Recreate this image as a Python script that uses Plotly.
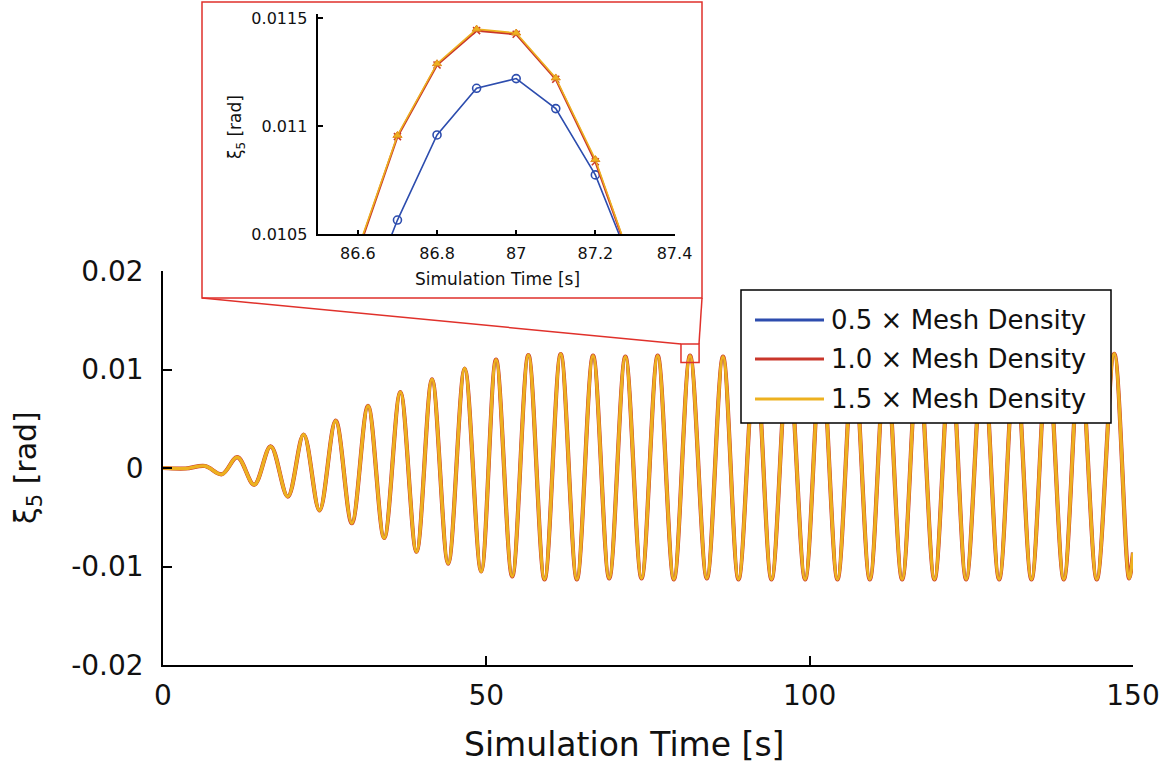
import plotly.graph_objects as go

W, H = 1170, 774

# ---------------- data ----------------
# Main view: times [s] and values [rad] of successive extrema of xi_5.
# The three mesh densities are indistinguishable at this scale.
t_extrema = [0, 3.5, 6.5, 9.1, 11.5, 14.1, 16.65, 19.3, 21.75, 24.2, 26.7, 29.2,
             31.7, 34.2, 36.7, 39.2, 41.6, 44.1, 46.65, 49.2, 51.5, 54.0, 56.5,
             59.0, 61.5, 64.0, 66.5, 69.0, 71.5, 74.0, 76.5, 79.0, 81.5, 84.1,
             86.6, 89.0, 91.6, 94.1, 96.7, 99.3, 101.8, 104.3, 106.8, 109.3,
             111.8, 114.3, 116.8, 119.3, 121.8, 124.2, 126.8, 129.3, 131.8,
             134.3, 136.8, 139.3, 141.8, 144.4, 147.1, 149.4, 150.0]
xi_extrema = [0, -0.00005, 0.0002, -0.00064, 0.0011, -0.0017, 0.0022, -0.0029,
              0.0034, -0.0043, 0.0048, -0.0056, 0.0063, -0.0071, 0.0077, -0.0085,
              0.0090, -0.0097, 0.0101, -0.0105, 0.0110, -0.0110, 0.01147, -0.0113,
              0.01157, -0.0113, 0.0114, -0.0112, 0.0113, -0.0112, 0.0114, -0.0113,
              0.0114, -0.0112, 0.0113, -0.0113, 0.0114, -0.0113, 0.0114, -0.0113,
              0.0114, -0.0113, 0.0114, -0.0113, 0.0114, -0.0113, 0.0114, -0.0113,
              0.0114, -0.0113, 0.0114, -0.0113, 0.0114, -0.0113, 0.0114, -0.0113,
              0.0114, -0.0113, 0.0116, -0.0112, -0.0086]

# Inset (zoom around the peak near 87 s)
inset_t = [86.6, 86.7, 86.8, 86.9, 87.0, 87.1, 87.2, 87.3]
xi_mesh05 = [0.01010, 0.010566, 0.01096, 0.011176, 0.011221, 0.011082, 0.010775, 0.010317]
xi_mesh10 = [0.01042, 0.010952, 0.011284, 0.011443, 0.011426, 0.011218, 0.010836, 0.010319]
xi_mesh15 = [0.01043, 0.010958, 0.011290, 0.011450, 0.011432, 0.011224, 0.010846, 0.010325]

series_names = ["0.5 \u00d7 Mesh Density", "1.0 \u00d7 Mesh Density", "1.5 \u00d7 Mesh Density"]

main_xticks = [0, 50, 100, 150]
main_xticktext = ["0", "50", "100", "150"]
main_yticks = [-0.02, -0.01, 0, 0.01, 0.02]
main_yticktext = ["-0.02", "-0.01", "0", "0.01", "0.02"]
inset_xticks = [86.6, 86.8, 87.0, 87.2, 87.4]
inset_xticktext = ["86.6", "86.8", "87", "87.2", "87.4"]
inset_yticks = [0.0105, 0.011, 0.0115]
inset_yticktext = ["0.0105", "0.011", "0.0115"]

# ---------------- styling ----------------
BLUE = "#2D4DAE"
RED = "#C9362B"
YELLOW = "#EDB120"
FONT = "DejaVu Sans"
TXT = "#111111"


def px_x(p):
    return p / W


def px_y(p):
    return 1 - p / H


fig = go.Figure()

# main traces
main_colors = [BLUE, RED, YELLOW]
main_widths = [3, 4.2, 3.4]
for name, col, w in zip(series_names, main_colors, main_widths):
    fig.add_trace(go.Scatter(
        x=t_extrema, y=xi_extrema, mode="lines", name=name,
        line=dict(color=col, width=w, shape="spline", smoothing=1.0),
        xaxis="x", yaxis="y", showlegend=False))

# inset traces
inset_data = [xi_mesh05, xi_mesh10, xi_mesh15]
inset_markers = [dict(symbol="circle-open", size=8, color=BLUE, line=dict(width=1.6)),
                 dict(symbol="x-thin-open", size=7, color=RED, line=dict(width=1.6, color=RED)),
                 dict(symbol="triangle-up", size=8, color=YELLOW, line=dict(width=1, color="#E08A1E"))]
inset_widths = [1.6, 2.2, 1.6]
for name, ys, mk, w, col in zip(series_names, inset_data, inset_markers, inset_widths, main_colors):
    fig.add_trace(go.Scatter(
        x=inset_t, y=ys, mode="lines+markers", name=name,
        line=dict(color=col, width=w), marker=mk,
        xaxis="x2", yaxis="y2", showlegend=False))

axis_common = dict(showline=True, linecolor="black", linewidth=1.5, mirror=False,
                   ticks="inside", tickcolor="black", tickwidth=1.5,
                   showgrid=False, zeroline=False, automargin=False)

fig.update_layout(
    width=W, height=H,
    margin=dict(l=0, r=0, t=0, b=0),
    paper_bgcolor="white", plot_bgcolor="rgba(0,0,0,0)",
    font=dict(family=FONT, color=TXT),
    showlegend=False,
    xaxis=dict(domain=[px_x(163), px_x(1133)], range=[0, 150],
               tickvals=main_xticks, ticktext=main_xticktext, ticklen=9,
               tickfont=dict(size=28, family=FONT, color=TXT), ticklabelstandoff=5,
               anchor="y", **axis_common),
    yaxis=dict(domain=[px_y(665), px_y(271)], range=[-0.02, 0.02],
               tickvals=main_yticks, ticktext=main_yticktext, ticklen=9,
               tickfont=dict(size=28, family=FONT, color=TXT), ticklabelstandoff=12,
               anchor="x", **axis_common),
    xaxis2=dict(domain=[px_x(318.3), px_x(674.5)], range=[86.5, 87.4],
                tickvals=inset_xticks, ticktext=inset_xticktext, ticklen=5,
                tickfont=dict(size=16, family=FONT, color=TXT), ticklabelstandoff=4,
                anchor="y2", **axis_common),
    yaxis2=dict(domain=[px_y(234.3), px_y(14)], range=[0.0105, 0.01152],
                tickvals=inset_yticks, ticktext=inset_yticktext, ticklen=5,
                tickfont=dict(size=16, family=FONT, color=TXT), ticklabelstandoff=6,
                anchor="x2", **axis_common),
)

# axis titles as annotations
def label(text, x, y, size, angle=0):
    fig.add_annotation(text=text, xref="paper", yref="paper", x=px_x(x), y=px_y(y),
                       xanchor="center", yanchor="middle", showarrow=False,
                       textangle=angle, font=dict(size=size, family=FONT, color=TXT))


label("Simulation Time [s]", 624, 744, 33)
label("\u03be<sub>5</sub> [rad]", 27, 468, 30, -90)
label("Simulation Time [s]", 497, 279, 17)
label("\u03be<sub>5</sub> [rad]", 236, 127, 17, -90)

# inset frame, zoom box and connector lines
ZRED = "#E0312B"
fig.add_shape(type="rect", xref="paper", yref="paper",
              x0=px_x(202), x1=px_x(702), y0=px_y(298), y1=px_y(2),
              line=dict(color=ZRED, width=1.5), layer="above")
fig.add_shape(type="rect", xref="x", yref="y", x0=80.1, x1=82.9, y0=0.0107, y1=0.0126,
              line=dict(color=ZRED, width=1.5), layer="above")
fig.add_shape(type="line", xref="paper", yref="paper",
              x0=px_x(202), y0=px_y(298), x1=px_x(681), y1=px_y(344),
              line=dict(color=ZRED, width=1.5), layer="above")
fig.add_shape(type="line", xref="paper", yref="paper",
              x0=px_x(702), y0=px_y(298), x1=px_x(699), y1=px_y(344),
              line=dict(color=ZRED, width=1.5), layer="above")

# legend box (drawn above the curves, as in the reference)
fig.add_shape(type="rect", xref="paper", yref="paper",
              x0=px_x(741), x1=px_x(1111), y0=px_y(423), y1=px_y(290),
              line=dict(color="black", width=1.5), fillcolor="white", layer="above")
legend_rows = [320, 359, 399]
for name, col, row in zip(series_names, main_colors, legend_rows):
    fig.add_shape(type="line", xref="paper", yref="paper",
                  x0=px_x(755), x1=px_x(824), y0=px_y(row), y1=px_y(row),
                  line=dict(color=col, width=3), layer="above")
    fig.add_annotation(text=name, xref="paper", yref="paper", x=px_x(829), y=px_y(row),
                       xanchor="left", yanchor="middle", showarrow=False,
                       font=dict(size=26, family=FONT, color=TXT))

fig.write_html("out.html")
